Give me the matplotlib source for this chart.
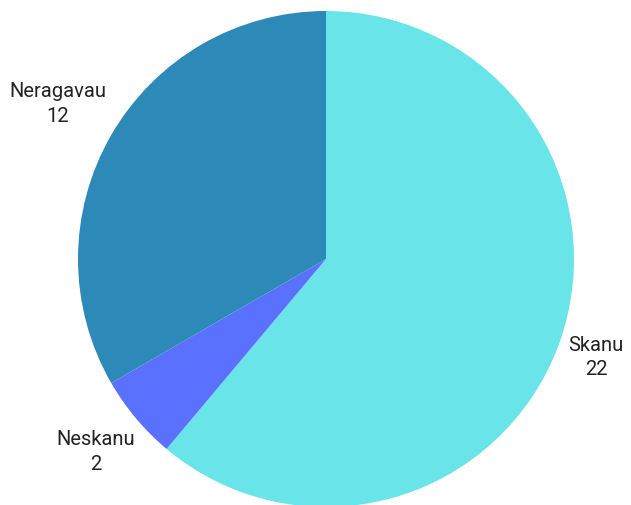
import numpy as np
import matplotlib.pyplot as plt

labels = ['Skanu', 'Neskanu', 'Neragavau']
values = [22, 2, 12]
colors = ['#69E4E8', '#5A70FF', '#2D8AB8']
label_dist = [1.16, 1.21, 1.25]

plt.rcParams['font.family'] = ['Roboto', 'DejaVu Sans']

fig = plt.figure(figsize=(6.31, 5.05), dpi=100)
ax = fig.add_axes([0, 0, 1, 1])

cx, cy, r = 326, 246, 248
texts = ['{}\n{}'.format(l, v) for l, v in zip(labels, values)]
wedges, lbls = ax.pie(values, labels=texts, colors=colors, startangle=90,
                      counterclock=False, center=(cx, cy), radius=r,
                      labeldistance=1.2, frame=True,
                      wedgeprops=dict(linewidth=0),
                      textprops=dict(fontsize=14.5, color='#222222', ha='center',
                                     va='center', linespacing=1.35))
# move labels a little along their wedge mid-angle
for w, t, d in zip(wedges, lbls, label_dist):
    ang = np.deg2rad((w.theta1 + w.theta2) / 2)
    t.set_position((cx + d * r * np.cos(ang), cy + d * r * np.sin(ang)))
    t.set_horizontalalignment('center')

ax.set_xlim(0, 631)
ax.set_ylim(0, 505)
ax.set_aspect('equal')
ax.axis('off')

plt.savefig('out.png', dpi=100)
